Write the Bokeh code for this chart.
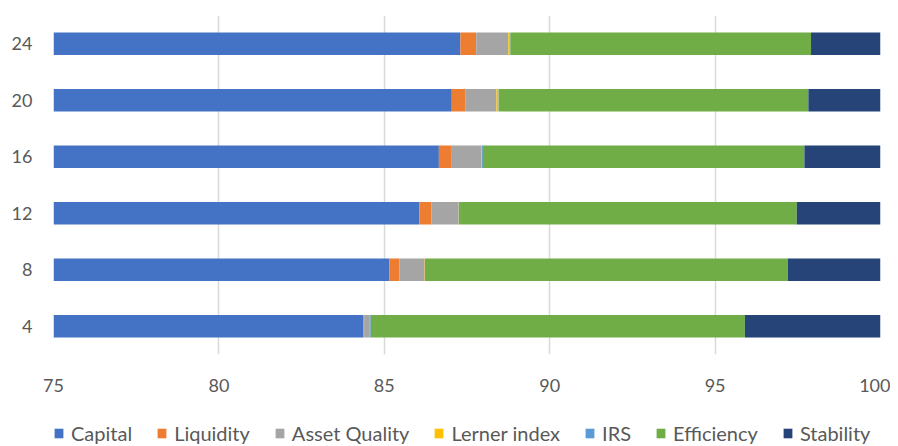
from bokeh.plotting import figure
from bokeh.layouts import column
from bokeh.models import ColumnDataSource, Range1d, FactorRange, Legend, LegendItem, FixedTicker
from bokeh.embed import file_html
from bokeh.resources import INLINE

categories = ["4", "8", "12", "16", "20", "24"]
capital = [84.37, 85.15, 86.06, 86.65, 87.04, 87.30]
liquidity = [0.02, 0.31, 0.37, 0.39, 0.42, 0.48]
asset_quality = [0.15, 0.76, 0.81, 0.90, 0.93, 0.97]
lerner_index = [0.01, 0.01, 0.01, 0.01, 0.06, 0.05]
irs = [0.04, 0.03, 0.04, 0.03, 0.01, 0.01]
efficiency = [11.31, 10.94, 10.18, 9.72, 9.36, 9.09]
stability = [4.10, 2.80, 2.53, 2.30, 2.18, 2.10]

series = ["Capital", "Liquidity", "Asset Quality", "Lerner index", "IRS", "Efficiency", "Stability"]
colors = ["#4472C4", "#ED7D31", "#A5A5A5", "#FFC000", "#5B9BD5", "#70AD47", "#264478"]
x_ticks = [75, 80, 85, 90, 95, 100]

data = {"cat": categories, "Capital": capital, "Liquidity": liquidity,
        "Asset Quality": asset_quality, "Lerner index": lerner_index, "IRS": irs,
        "Efficiency": efficiency, "Stability": stability}
source = ColumnDataSource(data)

FONT = "Lato"
TXT = "#595959"

p = figure(width=890, height=400, output_backend="svg", toolbar_location=None,
           x_range=Range1d(75, 100), y_range=FactorRange(*categories),
           min_border_left=53, min_border_right=10, min_border_top=15,
           min_border_bottom=46)
p.outline_line_color = None

p.hbar_stack(series, y="cat", height=0.4, color=colors, source=source, line_color=None)

p.xaxis.ticker = FixedTicker(ticks=x_ticks)
p.xaxis.axis_line_color = None
p.xaxis.major_tick_line_color = None
p.xaxis.minor_tick_line_color = None
p.xaxis.major_label_standoff = 18
p.xaxis.major_label_text_font = FONT
p.xaxis.major_label_text_font_size = "18px"
p.xaxis.major_label_text_color = TXT

p.yaxis.axis_line_color = None
p.yaxis.major_tick_line_color = None
p.yaxis.minor_tick_line_color = None
p.yaxis.major_label_standoff = 15
p.yaxis.major_label_text_font = FONT
p.yaxis.major_label_text_font_size = "18px"
p.yaxis.major_label_text_color = TXT

p.xgrid.grid_line_color = "#D9D9D9"
p.xgrid.grid_line_width = 1.5
p.ygrid.grid_line_color = None

# legend strip underneath (its zero-height bars are invisible, only the legend shows)
lg = figure(width=890, height=46, output_backend="svg", toolbar_location=None,
            x_range=Range1d(-2, -1), y_range=FactorRange(*categories),
            x_axis_location=None, y_axis_location=None,
            min_border_left=53, min_border_right=10, min_border_top=0, min_border_bottom=0)
lg.outline_line_color = None
lg.grid.grid_line_color = None
leg_renderers = lg.hbar_stack(series, y="cat", height=0, color=colors, source=source,
                              line_color=None)

items = [LegendItem(label=s, renderers=[r]) for s, r in zip(series, leg_renderers)]
legend = Legend(items=items, orientation="horizontal", location=(0, 1),
                label_text_font=FONT, label_text_font_size="20px",
                label_text_color=TXT, glyph_width=11, glyph_height=12,
                label_height=16, label_standoff=7, spacing=24, padding=0, margin=0,
                border_line_color=None, background_fill_alpha=0)
lg.add_layout(legend, "center")

layout = column(p, lg, spacing=0)
open("out.html", "w").write(file_html(layout, INLINE))
